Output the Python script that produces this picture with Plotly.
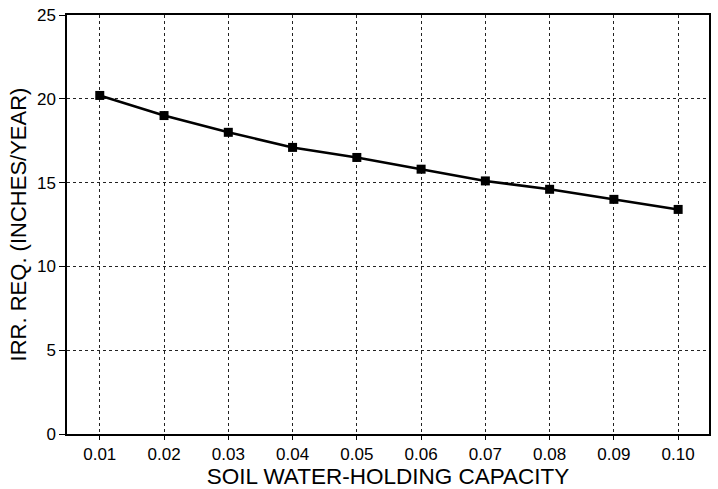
import plotly.graph_objects as go

capacity = [0.01, 0.02, 0.03, 0.04, 0.05, 0.06, 0.07, 0.08, 0.09, 0.10]
irr_req = [20.2, 19.0, 18.0, 17.1, 16.5, 15.8, 15.1, 14.6, 14.0, 13.4]
x_tick_labels = ["0.01", "0.02", "0.03", "0.04", "0.05", "0.06", "0.07", "0.08", "0.09", "0.10"]
y_ticks = [0, 5, 10, 15, 20, 25]

fig = go.Figure()
fig.add_trace(go.Scatter(
    x=capacity, y=irr_req, mode="lines+markers",
    line=dict(color="black", width=2.5),
    marker=dict(symbol="square", size=9, color="black"),
    showlegend=False,
))

font_family = "Liberation Sans, Arial, sans-serif"
fig.update_layout(
    width=718, height=489,
    margin=dict(l=67, r=9, t=15, b=55),
    paper_bgcolor="white", plot_bgcolor="white",
    font=dict(family=font_family, color="black"),
    xaxis=dict(
        range=[0.0049, 0.1048],
        tickvals=capacity, ticktext=x_tick_labels,
        tickfont=dict(size=17),
        showgrid=True, gridcolor="#222", griddash="dot", gridwidth=1,
        showline=True, linecolor="black", linewidth=1.5, mirror=True,
        ticks="outside", ticklen=4, tickcolor="black",
        zeroline=False, automargin=False,
        title=dict(text="SOIL WATER-HOLDING CAPACITY", font=dict(size=22.5), standoff=6),
    ),
    yaxis=dict(
        range=[0, 25],
        tickvals=y_ticks,
        tickfont=dict(size=17),
        showgrid=True, gridcolor="#222", griddash="dot", gridwidth=1,
        showline=True, linecolor="black", linewidth=1.5, mirror=True,
        ticks="outside", ticklen=6, tickcolor="black",
        zeroline=False, automargin=False,
        title=dict(text="IRR. REQ. (INCHES/YEAR)", font=dict(size=22), standoff=4),
    ),
)

fig.write_html("out.html", config={"displayModeBar": False},
               post_script="document.body.style.margin='0px';")
